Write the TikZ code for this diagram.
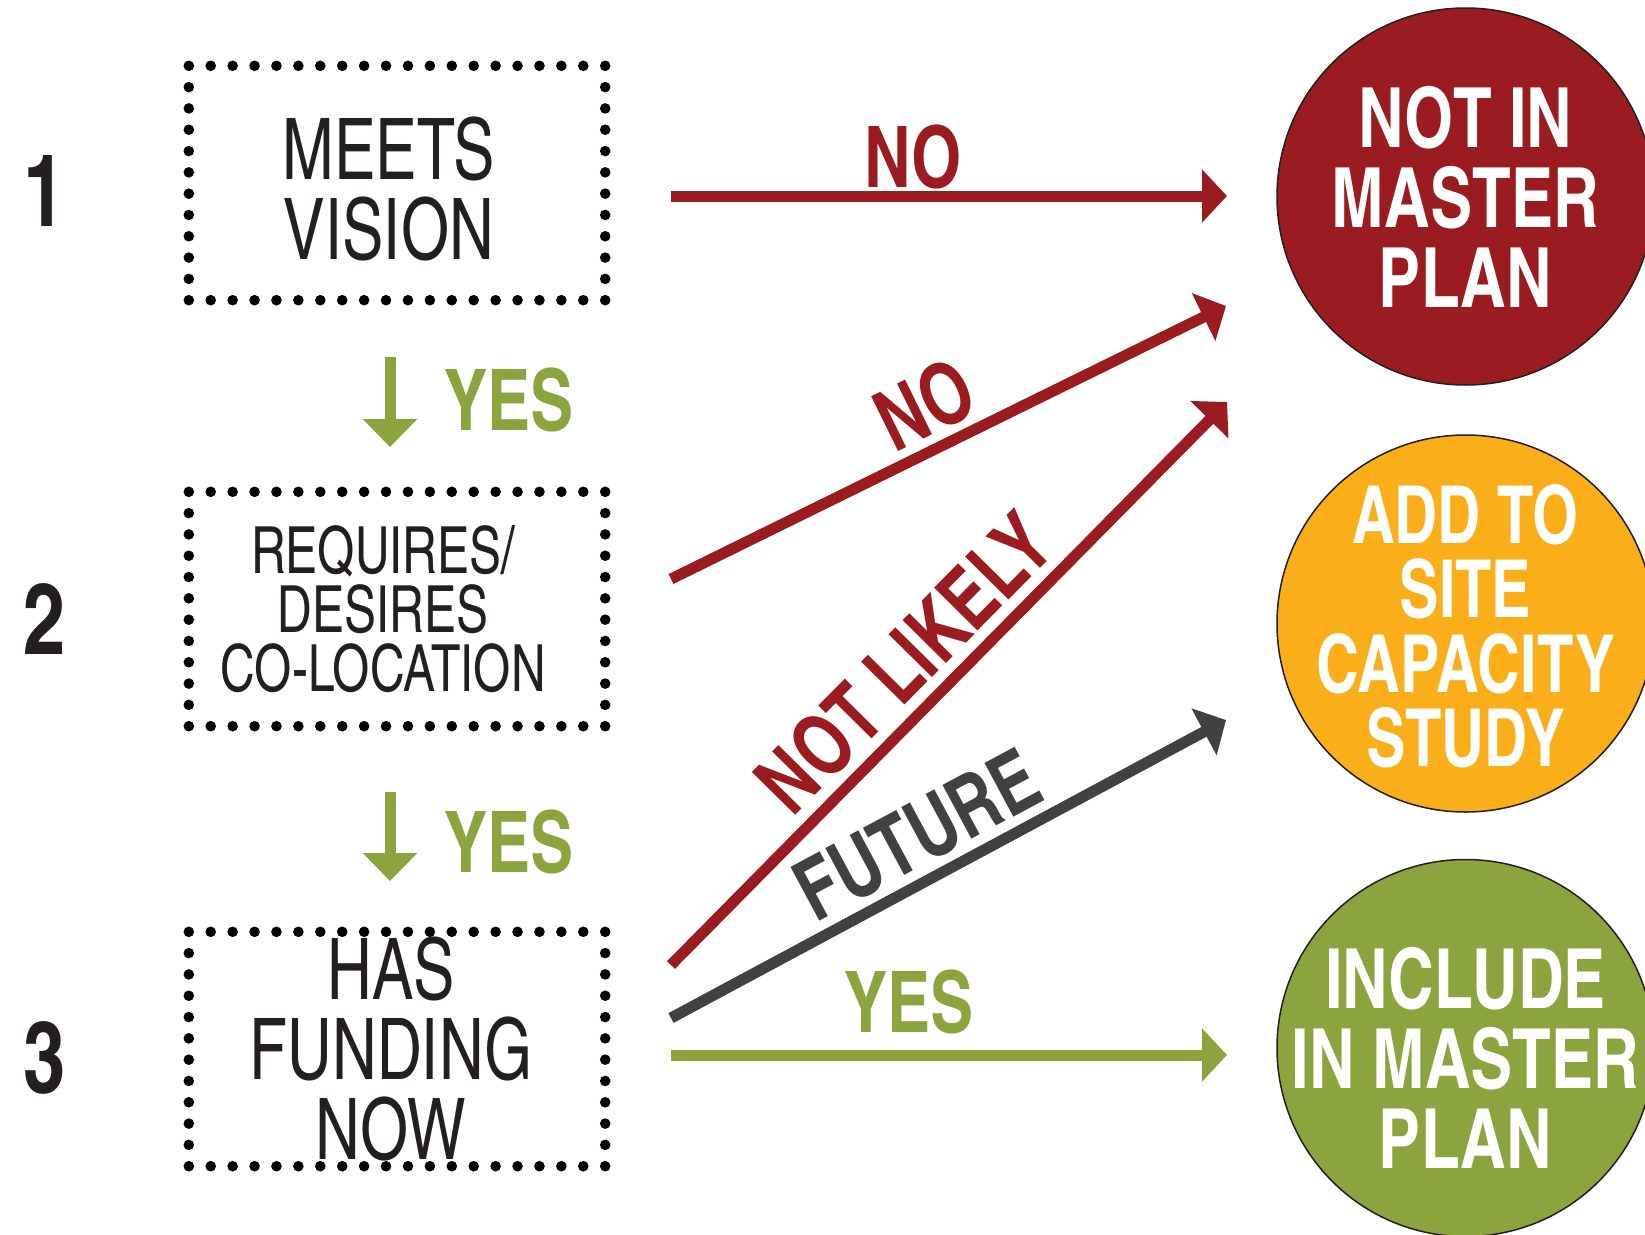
\documentclass[tikz,border=0pt]{standalone}
\usepackage{fontspec}
\usetikzlibrary{arrows.meta,calc}
\newfontfamily\cnb[FakeStretch=0.93]{texgyreheroscn-bold.otf}
\newfontfamily\cnbn[FakeStretch=0.905]{texgyreheroscn-bold.otf}
\newfontfamily\cnr[FakeStretch=0.89]{texgyreheroscn-regular.otf}
\newfontfamily\cnrw[FakeStretch=0.90]{texgyreheroscn-regular.otf}
\definecolor{cred}{HTML}{9B1C20}
\definecolor{corange}{HTML}{F9AE1A}
\definecolor{cgreen}{HTML}{8BA43E}
\definecolor{cgray}{HTML}{414141}
\definecolor{ink}{HTML}{231F20}
\begin{document}
\begin{tikzpicture}[x=1pt,y=-1pt,
  stepbox/.style={minimum width=416pt, minimum height=234pt, inner sep=0pt},
  bigtxt/.style={inner sep=0pt, align=center, text=ink, font={\cnr\fontsize{85}{80}\selectfont}},
  midtxt/.style={inner sep=0pt, align=center, text=ink, font={\cnrw\fontsize{65}{59}\selectfont}},
  outcome/.style={circle, minimum size=377pt, inner sep=0pt, draw=ink, line width=1.5pt},
  outtxt/.style={inner sep=0pt, text=white, align=center, font={\cnb\fontsize{83}{80}\selectfont}},
  outtxtn/.style={inner sep=0pt, text=white, align=center, font={\cnbn\fontsize{80}{74.5}\selectfont}},
  num/.style={text=ink, inner sep=0pt, font={\cnb\fontsize{100}{100}\selectfont}},
  lbl/.style={inner xsep=0pt, font={\cnb\fontsize{85}{80}\selectfont}},
  flow/.style={line width=11pt, -{Triangle[length=25pt,width=52pt]}},
  downflow/.style={line width=11pt, cgreen, -{Triangle[length=28pt,width=53pt]}},
  dotc/.style={fill=black}]
\useasboundingbox (0,0) rectangle (1645,1234);
\clip (0,0) rectangle (1645,1234);
\fill[white] (0,0) rectangle (1645,1234);

% step numbers
\node[num] (n1) at (45,191) {1};
\node[num] (n2) at (45,619) {2};
\node[num] (n3) at (45,1058) {3};

% step boxes
\node[stepbox, label={[bigtxt, xshift=-8pt, yshift=-6pt]center:MEETS\\VISION}] (b1) at (397,183) {};
\node[stepbox, label={[midtxt, xshift=-14pt]center:REQUIRES/\\DESIRES\\CO-LOCATION}] (b2) at (397,609) {};
\node[stepbox, label={[bigtxt, xshift=-6pt]center:HAS\\FUNDING\\NOW}] (b3) at (397,1049) {};

\foreach \b in {b1,b2,b3}{
  \foreach \i in {0,...,19}{
    \fill[dotc] ($(\b.north west)!{\i/19}!(\b.north east)$) circle (5.3pt);
    \fill[dotc] ($(\b.south west)!{\i/19}!(\b.south east)$) circle (5.3pt);
  }
  \foreach \i in {1,...,10}{
    \fill[dotc] ($(\b.north west)!{\i/11}!(\b.south west)$) circle (5.3pt);
    \fill[dotc] ($(\b.north east)!{\i/11}!(\b.south east)$) circle (5.3pt);
  }
}

% outcomes
\node[outcome, fill=cred, label={[outtxt]center:NOT IN\\MASTER\\PLAN}] (o1) at (1465.5,196.5) {};
\node[outcome, fill=corange, label={[outtxtn, yshift=-3pt]center:ADD TO\\SITE\\CAPACITY\\STUDY}] (o2) at (1465.5,623.5) {};
\node[outcome, fill=cgreen, label={[outtxt, yshift=-10pt]center:INCLUDE\\IN MASTER\\PLAN}] (o3) at (1465.5,1048) {};

% connector end points
\coordinate (s1) at (671,196);   \coordinate (e1) at (1227,196);
\coordinate (s2) at (671,579);   \coordinate (e2) at (1226,306);
\coordinate (s3) at (671,965);   \coordinate (e3) at (1227,402);
\coordinate (s4) at (671,1018);  \coordinate (e4) at (1226,720);
\coordinate (s5) at (671,1055);  \coordinate (e5) at (1227,1055);
\coordinate (v1s) at (390,357);  \coordinate (v1e) at (390,447);
\coordinate (v2s) at (390,792);  \coordinate (v2e) at (390,881);

\draw[flow, cred] (s1) -- node[lbl, pos=0.435, above, inner ysep=1pt, text=cred] (l1) {NO} (e1);
\draw[flow, cred] (s2) -- node[lbl, pos=0.493, sloped, above, inner ysep=7pt, text=cred] (l2) {NO} (e2);
\draw[flow, cred] (s3) -- node[lbl, pos=0.479, sloped, above, inner ysep=9pt, text=cred] (l3) {NOT LIKELY} (e3);
\draw[flow, cgray] (s4) -- node[lbl, pos=0.482, sloped, above, inner ysep=8pt, text=cgray] (l4) {FUTURE} (e4);
\draw[flow, cgreen] (s5) -- node[lbl, pos=0.428, above, inner ysep=15pt, text=cgreen] (l5) {YES} (e5);

\draw[downflow] (v1s) -- (v1e);
\draw[downflow] (v2s) -- (v2e);
\node[lbl, text=cgreen, inner sep=0pt] (y1) at (509,400) {YES};
\node[lbl, text=cgreen, inner sep=0pt] (y2) at (509,842) {YES};
\end{tikzpicture}
\end{document}
